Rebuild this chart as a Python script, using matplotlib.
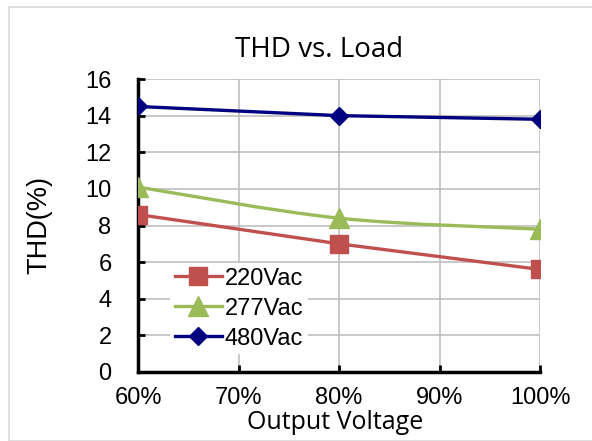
import matplotlib
matplotlib.use("Agg")
import matplotlib.pyplot as plt
from matplotlib.patches import Rectangle
from matplotlib.path import Path
from matplotlib.patches import PathPatch
from matplotlib.lines import Line2D
import numpy as np

x_vals = [0.6, 0.8, 1.0]
x_ticks = [0.6, 0.7, 0.8, 0.9, 1.0]
x_ticklabels = ["60%", "70%", "80%", "90%", "100%"]
y_ticks = [0, 2, 4, 6, 8, 10, 12, 14, 16]

thd_220 = [8.6, 7.0, 5.6]
thd_277 = [10.1, 8.4, 7.8]
thd_480 = [14.5, 14.0, 13.8]

c220 = "#C0504D"
c277 = "#9BBB59"
c480 = "#000080"

fig = plt.figure(figsize=(5.92, 4.41), dpi=100)
fig.patches.append(Rectangle((9/592, 0), 1.0, 1 - 7/441, transform=fig.transFigure,
                             fill=False, edgecolor="#D9D9D9", linewidth=1.2, zorder=0))
ax = fig.add_axes([138/592, 1 - 372/441, 402/592, 293/441])

ax.set_xlim(0.6, 1.0)
ax.set_ylim(0, 16)
ax.set_xticks(x_ticks)
ax.set_xticklabels(x_ticklabels)
ax.set_yticks(y_ticks)
ax.grid(True, color="#BFBFBF", linewidth=1.2)
ax.set_axisbelow(True)
for s in ["top", "right"]:
    ax.spines[s].set_visible(False)
for s in ["left", "bottom"]:
    ax.spines[s].set_linewidth(2.5)
    ax.spines[s].set_color("black")
ax.tick_params(axis="both", direction="in", length=5, width=2, labelsize=17,
               labelfontfamily="Liberation Sans")
ax.tick_params(axis="x", pad=11)
ax.tick_params(axis="y", pad=19)

lw = 2.4
# 220Vac
ax.plot(x_vals, thd_220, color=c220, lw=lw, marker="s", ms=13, zorder=3)
# 277Vac smoothed curve (bezier through the data points)
px = np.array(x_vals); py = np.array(thd_277)
pts = np.column_stack([px, py])
verts = [pts[0]]
codes = [Path.MOVETO]
n = len(pts)
for i in range(n - 1):
    p_prev = pts[i - 1] if i > 0 else pts[i]
    p_next = pts[i + 2] if i + 2 < n else pts[i + 1]
    c1 = pts[i] + (pts[i + 1] - p_prev) / 6
    c2 = pts[i + 1] - (p_next - pts[i]) / 6
    verts += [c1, c2, pts[i + 1]]
    codes += [Path.CURVE4] * 3
ax.add_patch(PathPatch(Path(verts, codes), fill=False, edgecolor=c277, lw=lw, zorder=3))
ax.plot(x_vals, thd_277, color=c277, lw=0, marker="^", ms=14, zorder=3)
# 480Vac
ax.plot(x_vals, thd_480, color=c480, lw=lw, marker="D", ms=9.5, zorder=3)

handles = [Line2D([], [], color=c220, lw=lw, marker="s", ms=13),
           Line2D([], [], color=c277, lw=lw, marker="^", ms=14),
           Line2D([], [], color=c480, lw=lw, marker="D", ms=9.5)]
leg = ax.legend(handles, ["220Vac", "277Vac", "480Vac"], loc="lower left",
                bbox_to_anchor=(0.05, 0.02), frameon=True, facecolor="white",
                edgecolor="none", framealpha=1, fancybox=False,
                handlelength=2.0, handletextpad=0.13, labelspacing=0.34,
                borderpad=0.2, prop={"family": "Liberation Sans", "size": 17})

ax.set_title("THD vs. Load", fontfamily="Open Sans", fontsize=20, pad=16, x=0.45)
ax.set_xlabel("Output Voltage", fontfamily="Open Sans", fontsize=18)
ax.xaxis.set_label_coords(0.491, -0.128)
ax.set_ylabel("THD(%)", fontfamily="Liberation Sans", fontsize=19.5)
ax.yaxis.set_label_coords(-0.212, 0.5)

fig.savefig("out.png", dpi=100)
